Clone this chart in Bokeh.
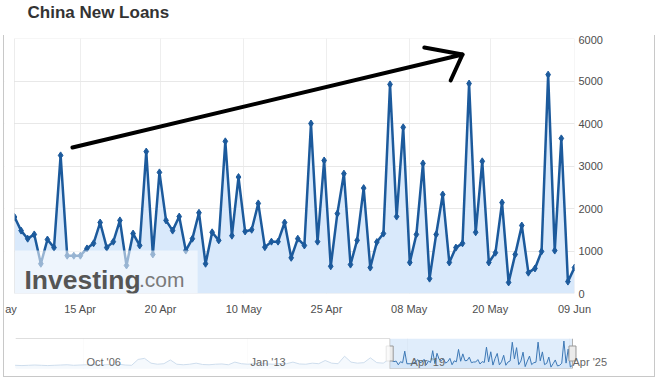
from bokeh.plotting import figure
from bokeh.models import Range1d, FixedTicker, Label, LabelSet, BoxAnnotation, ColumnDataSource
from bokeh.layouts import column
from bokeh.embed import file_html
from bokeh.resources import INLINE
from bokeh.core.properties import value

title_text = "China New Loans"

loans = [1800, 1480, 1290, 1390, 700, 1270, 1080, 3250, 890, 890,
         890, 1060, 1180, 1670, 1080, 1220, 1720, 660, 1410, 1130,
         3340, 920, 2850, 1720, 1480, 1810, 1010, 1290, 1900, 700,
         1440, 1250, 3580, 1360, 2740, 1460, 1500, 2120, 1090, 1220,
         1220, 1670, 840, 1290, 1130, 4000, 1220, 3130, 640, 1880,
         2820, 680, 1250, 2480, 610, 1210, 1410, 4920, 1810, 3910,
         730, 1390, 3060, 350, 1390, 2330, 730, 1080, 1180, 4940,
         1440, 3110, 730, 960, 2140, 260, 920, 1600, 490, 590,
         990, 5150, 1010, 3650, 280, 610]

# first label is the clipped "May" at the far left edge of the reference
x_tick_pos = [-0.53, 10.0, 22.2, 34.8, 47.4, 59.9, 72.2, 85.0]
x_tick_labels = ["ay", "15 Apr", "20 Apr", "10 May", "25 Apr", "08 May", "20 May", "09 Jun"]
y_ticks = [0, 1000, 2000, 3000, 4000, 5000, 6000]

# navigator: older history, one reading every 3 months (month index 0,3,6,...)
nav_history = [600, 550, 600, 650, 600, 550, 600, 650, 700, 600,
               650, 700, 750, 650, 700, 750, 800, 650, 600, 1700,
               1900, 1000, 800, 900, 1600, 800, 700, 800, 1000, 750,
               700, 800, 850, 700, 1200, 900, 800, 900, 1000, 850,
               800, 950, 900, 1200, 850, 800, 1000, 900, 1500, 1000,
               900, 2300, 1200, 1000, 1100, 2000, 1100, 1000]
nav_labels = ["Oct '06", "Jan '13", "Apr '19", "Apr '25"]
nav_label_pos = [31.6, 107.9, 182.3, 257.6]

# arrow drawn on the chart (index, value)
arrow_shaft_x = [8.8, 68.0]
arrow_shaft_y = [3435, 5624]
arrow_head_x = [62.2, 68.0, 66.2]
arrow_head_y = [5788, 5624, 5012]

FONT = "Liberation Sans"
LINE = "#1c5a9c"
FILL = "#d9e9fb"


def no_align(f):
    if "frame_align" in f.properties():
        f.frame_align = False


# ---------------- title ----------------
tf = figure(width=668, height=35, x_range=Range1d(0, 668), y_range=Range1d(35, 0),
            output_backend="svg", toolbar_location=None, min_border=0,
            x_axis_type=None, y_axis_type=None)
no_align(tf)
tf.outline_line_color = None
tf.xgrid.visible = False
tf.ygrid.visible = False
tf.add_layout(Label(x=27, y=11.5, text=title_text, text_font=FONT,
                    text_font_style="bold", text_font_size="17px",
                    text_color="#333333", text_baseline="alphabetic"))

# ---------------- main chart ----------------
xs = list(range(len(loans)))
src = ColumnDataSource(dict(x=xs, y=loans))
p = figure(width=650, height=290, x_range=Range1d(-1.518, len(loans) - 1),
           y_range=Range1d(0, 6000), y_axis_location="right",
           output_backend="svg", toolbar_location=None,
           min_border_left=0, min_border_right=80, min_border_top=3, min_border_bottom=32)
no_align(p)
p.outline_line_color = None
p.background_fill_color = "white"

p.varea(x="x", y1=0, y2="y", source=src, fill_color=FILL)
p.line(x="x", y="y", source=src, line_color=LINE, line_width=2.5)
p.scatter(x="x", y="y", source=src, marker="diamond", size=7,
          fill_color=LINE, line_color=LINE)

p.yaxis.ticker = FixedTicker(ticks=y_ticks)
p.xaxis.ticker = FixedTicker(ticks=x_tick_pos)
p.xgrid.ticker = FixedTicker(ticks=x_tick_pos[1:])
p.xaxis.major_label_overrides = {t: l for t, l in zip(x_tick_pos, x_tick_labels)}
for ax in (p.xaxis, p.yaxis):
    ax.major_tick_line_color = None
    ax.minor_tick_line_color = None
    ax.major_tick_out = 0
    ax.axis_line_color = None
    ax.major_label_text_font = FONT
    ax.major_label_text_font_size = "11px"
    ax.major_label_text_color = "#4d4d4d"
p.xaxis.major_label_standoff = 9
p.yaxis.major_label_standoff = 4
p.ygrid.grid_line_color = "#e8e8e8"
p.xgrid.grid_line_color = "#eeeeee"

# watermark
p.add_layout(BoxAnnotation(left=0, right=27.8, bottom=0, top=1010,
                           fill_color="white", fill_alpha=0.55, line_color=None))
p.add_layout(Label(x=1.5, y=329, text="Investing", text_font=FONT,
                   text_font_style="bold", text_font_size="26.5px",
                   text_color="#555555", text_baseline="alphabetic"))
p.add_layout(Label(x=18.9, y=329, text=".com", text_font=FONT,
                   text_font_size="21px", text_color="#7a7a7a",
                   text_baseline="alphabetic"))

# arrow
p.line(arrow_shaft_x, arrow_shaft_y, line_color="black", line_width=4, line_cap="round")
p.line(arrow_head_x, arrow_head_y, line_color="black", line_width=4,
       line_cap="round", line_join="round")

# blank margin left of the plot area, then the plot-area outline
p.add_layout(BoxAnnotation(right=0, fill_color="white", fill_alpha=1.0, line_color=None))
p.add_layout(BoxAnnotation(left=0, right=len(loans) - 1, bottom=0, top=6000,
                           fill_color=None, line_color="#c0c0c0", line_width=1))

# ---------------- navigator ----------------
nav_x = [3 * k for k in range(len(nav_history))] + [174 + i for i in range(len(loans))]
nav_y = nav_history + loans
nsrc = ColumnDataSource(dict(x=nav_x, y=nav_y))
sel_start, sel_end = 174, 174 + len(loans) - 1
NTOP = 5620

nav = figure(width=650, height=51, x_range=Range1d(0, 295.27), y_range=Range1d(0, NTOP),
             output_backend="svg", toolbar_location=None,
             min_border_left=11, min_border_right=4, min_border_top=13, min_border_bottom=8)
no_align(nav)
nav.xaxis.visible = False
nav.yaxis.visible = False
nav.outline_line_color = None
nav.ygrid.visible = False
nav.xgrid.ticker = FixedTicker(ticks=nav_label_pos)
nav.xgrid.grid_line_color = "#eeeeee"

nav.add_layout(BoxAnnotation(left=sel_start, right=sel_end, fill_color="#d3e5f9",
                             fill_alpha=0.7, line_color=None, level="underlay"))
nav.varea(x="x", y1=0, y2="y", source=nsrc, fill_color="#d5e6f8")
nav.line(x="x", y="y", source=nsrc, line_color="#3d78b5", line_width=1)
nav.add_layout(BoxAnnotation(left=0, right=sel_start, fill_color="white",
                             fill_alpha=0.75, line_color=None))
nav.line([0, sel_start, sel_start, sel_end, sel_end],
         [NTOP, NTOP, 0, 0, NTOP], line_color="#b0b0b0", line_width=1)
lsrc = ColumnDataSource(dict(x=nav_label_pos, y=[1311] * len(nav_labels), t=nav_labels))
nav.add_layout(LabelSet(x="x", y="y", text="t", source=lsrc, x_offset=3,
                        text_font=value(FONT), text_font_size=value("11px"),
                        text_color="#666666", text_baseline="middle"))
nav.rect(x=[sel_start, sel_end], y=[NTOP / 2, NTOP / 2], width=7, height=15,
         width_units="screen", height_units="screen",
         fill_color="#ebebeb", line_color="#999999")

box = column(p, nav, styles={"border-left": "1px solid #c8c8c8",
                             "border-right": "1px solid #c8c8c8",
                             "border-bottom": "1px solid #c8c8c8",
                             "margin-left": "3px"})
layout = column(tf, box)

open("out.html", "w").write(file_html(layout, INLINE))
